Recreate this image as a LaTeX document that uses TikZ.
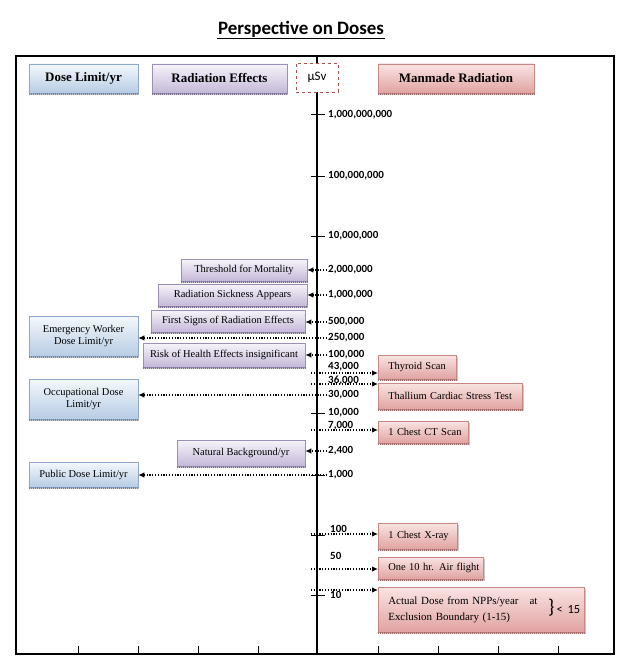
\documentclass[tikz,border=0pt]{standalone}
\usepackage{fontspec}
\setmainfont{Liberation Serif}
\newfontfamily\calib{Carlito}
\usetikzlibrary{arrows.meta,shadows}
\definecolor{bluetop}{HTML}{F4F8FC}
\definecolor{bluebot}{HTML}{B7CCE4}
\definecolor{blueline}{HTML}{8DA8CA}
\definecolor{purtop}{HTML}{F7F4FA}
\definecolor{purbot}{HTML}{C4B8D8}
\definecolor{purline}{HTML}{9C8EB7}
\definecolor{redtop}{HTML}{F9E4E3}
\definecolor{redbot}{HTML}{E0A3A1}
\definecolor{redline}{HTML}{C98784}
\definecolor{dashred}{HTML}{B0504D}
\tikzset{
  basebox/.style={draw, line width=0.6bp, inner sep=2bp, align=center,
    font=\fontsize{10.5}{12}\selectfont,
    drop shadow={shadow xshift=1.2bp, shadow yshift=-1.8bp, opacity=0.6, fill=gray!70}},
  bluebox/.style={basebox, draw=blueline, top color=bluetop, bottom color=bluebot},
  purbox/.style={basebox, draw=purline, top color=purtop, bottom color=purbot},
  redbox/.style={basebox, draw=redline, top color=redtop, bottom color=redbot,
    anchor=west, align=left, inner xsep=10bp},
  hdr/.style={font=\bfseries\fontsize{13}{14}\selectfont, minimum height=29bp},
  val/.style={anchor=west, inner sep=1bp, font=\calib\bfseries\fontsize{11}{12}\selectfont},
  arr/.style={line width=1.2bp, dash pattern=on 1.2bp off 1.6bp,
    -{Latex[length=6bp,width=5.5bp]}},
  tick/.style={line width=1bp},
  edgeline/.style={line width=1.6bp, dash pattern=on 1bp off 1bp}
}
\begin{document}
\begin{tikzpicture}[x=1bp,y=-1bp]
\useasboundingbox (0,0) rectangle (618,659);
% title
\node[font=\calib\bfseries\fontsize{19}{21}\selectfont, inner sep=0.5bp] (title) at (301,29) {Perspective on Doses};
\draw[line width=1.1bp] ([yshift=-1bp]title.south west) -- ([yshift=-1bp]title.south east);
% frame and axis
\draw[line width=2.2bp] (16,56) rectangle (614,654);
\draw[line width=1.1bp] (317,56) -- (317,654);
\foreach \x in {78,138,198,258,378,438,498,558}
  \draw[line width=0.8bp] (\x,646) -- (\x,654);
\foreach \y in {115,176,236,413,475,535,595}
  \draw[tick] (311,\y) -- (325,\y);
% headers
\node[bluebox, hdr, minimum width=109bp] (hdose) at (83.5,78.5) {Dose Limit/yr};
\node[purbox, hdr, minimum width=135bp] (heff) at (219.5,78.5) {Radiation Effects};
\node[draw=dashred, dashed, line width=0.8bp, fill=white, minimum width=42bp, minimum height=29bp,
  font=\calib\fontsize{13}{14}\selectfont] (husv) at (317,77.5) {µSv};
\node[redbox, hdr, anchor=center, align=center, minimum width=156bp] (hman) at (456,78.5) {Manmade Radiation};
% left blue boxes
\node[bluebox, minimum width=109bp, minimum height=40bp] (emerg) at (83.5,336) {Emergency Worker\\Dose Limit/yr};
\node[bluebox, minimum width=109bp, minimum height=40bp] (occ) at (83.5,399) {Occupational Dose\\Limit/yr};
\node[bluebox, minimum width=109bp, minimum height=25bp] (pub) at (83.5,474.5) {Public Dose Limit/yr};
% purple boxes
\node[purbox, minimum width=126bp, minimum height=22bp] (thr) at (244,270) {Threshold for Mortality};
\node[purbox, minimum width=149bp, minimum height=22bp] (sick) at (232.5,295) {Radiation Sickness Appears};
\node[purbox, minimum width=154bp, minimum height=22bp] (first) at (228,321) {First Signs of Radiation Effects};
\node[purbox, minimum width=162bp, minimum height=24bp] (risk) at (224,355) {Risk of Health Effects insignificant};
\node[purbox, minimum width=128bp, minimum height=26bp] (nat) at (241,453) {Natural Background/yr};
% red boxes (text width = box width - 20bp)
\node[redbox, text width=58bp, minimum height=24bp] (thy) at (378,367) {\mbox{Thyroid Scan}};
\node[redbox, text width=124bp, minimum height=26bp] (thal) at (378,396) {\mbox{Thallium Cardiac Stress Test}};
\node[redbox, text width=70bp, minimum height=22bp] (ct) at (378,432) {\mbox{1 Chest CT Scan}};
\node[redbox, text width=59bp, minimum height=26bp] (xray) at (378,536) {\mbox{1 Chest X-ray}};
\node[redbox, text width=85bp, minimum height=22bp] (air) at (378,568) {\mbox{One 10 hr. Air flight}};
\node[redbox, text width=186bp, minimum height=45bp, font=\fontsize{11}{16}\selectfont] (npp) at (378,609.5) {\mbox{Actual Dose from NPPs/year\ \ \ at}\\\mbox{Exclusion Boundary (1-15)}};
\node[anchor=west, inner sep=0bp, font=\calib\fontsize{12.5}{13}\selectfont] (lt15) at (548,608) {{\fontsize{20}{20}\selectfont\}}\,<\, 15};
% checkered bottom edges of the boxes
\foreach \n/\c in {hdose/blueline, emerg/blueline, occ/blueline, pub/blueline,
    heff/purline, thr/purline, sick/purline, first/purline, risk/purline, nat/purline,
    hman/redline, thy/redline, thal/redline, ct/redline, xray/redline, air/redline, npp/redline}
  \draw[edgeline, draw=\c!80!black] ([yshift=-0.8bp]\n.south west) -- ([yshift=-0.8bp]\n.south east);
% axis values
\node[val] (l1e9) at (327,115) {1,000,000,000};
\node[val] (l1e8) at (327,176) {100,000,000};
\node[val] (l1e7) at (327,236) {10,000,000};
\node[val] (l2e6) at (327,270) {2,000,000};
\node[val] (l1e6) at (327,295) {1,000,000};
\node[val] (l5e5) at (327,322) {500,000};
\node[val] (l25e4) at (327,338) {250,000};
\node[val] (l1e5) at (327,355) {100,000};
\node[val] (l43) at (327,367) {43,000};
\node[val] (l36) at (327,380) {36,000};
\node[val] (l30) at (327,395) {30,000};
\node[val] (l1e4) at (327,413) {10,000};
\node[val] (l7) at (327,426) {7,000};
\node[val] (l24) at (327,451) {2,400};
\node[val] (l1e3) at (327,475) {1,000};
\node[val] (l100) at (329,529) {100};
\node[val] (l50) at (329,556) {50};
\node[val] (l10) at (329,595) {10};
% start points of right-pointing arrows
\coordinate (c43) at (311,373);
\coordinate (c36) at (311,384);
\coordinate (c7) at (311,430);
\coordinate (c100) at (311,534);
\coordinate (c50) at (311,569);
\coordinate (c10) at (311,590);
% connectors
\draw[arr] (l2e6.west) -- (thr.east);
\draw[arr] (l1e6.west) -- (sick.east);
\draw[arr] (l5e5.west) -- (first.east |- l5e5.west);
\draw[arr] (l25e4.west) -- (emerg.east |- l25e4.west);
\draw[arr] (l1e5.west) -- (risk.east);
\draw[arr] (c43) -- (thy.west |- c43);
\draw[arr] (c36) -- (thal.west |- c36);
\draw[arr] (l30.west) -- (occ.east |- l30.west);
\draw[arr] (c7) -- (ct.west |- c7);
\draw[arr] (l24.west) -- (nat.east |- l24.west);
\draw[arr] (l1e3.west) -- (pub.east |- l1e3.west);
\draw[arr] (c100) -- (xray.west |- c100);
\draw[arr] (c50) -- (air.west |- c50);
\draw[arr] (c10) -- (npp.west |- c10);
\end{tikzpicture}
\end{document}
